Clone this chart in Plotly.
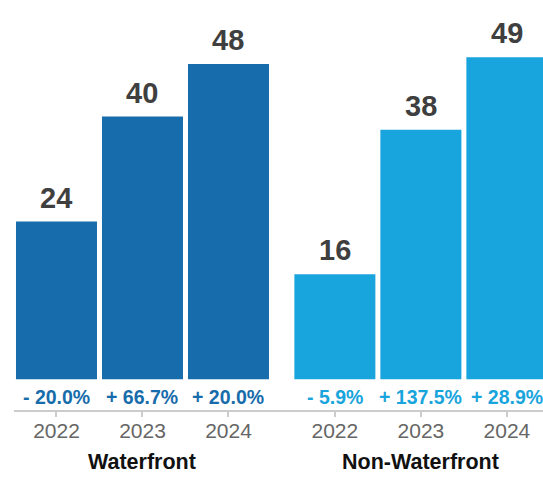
import plotly.graph_objects as go

# Data
years = ["2022", "2023", "2024"]
groups = ["Waterfront", "Non-Waterfront"]
waterfront = [24, 40, 48]
non_waterfront = [16, 38, 49]
waterfront_change = ["- 20.0%", "+ 66.7%", "+ 20.0%"]
non_waterfront_change = ["- 5.9%", "+ 137.5%", "+ 28.9%"]

colors = ["#176cab", "#18a4dc"]
group_offsets = [0.0, 3.237]
bar_width = 0.942

FONT = "Liberation Sans, Arial, Helvetica, sans-serif"

series = [waterfront, non_waterfront]
changes = [waterfront_change, non_waterfront_change]

fig = go.Figure()
annotations = []
tickvals, ticktext = [], []

for g, (name, vals, chg, col, off) in enumerate(
    zip(groups, series, changes, colors, group_offsets)
):
    xs = [off + i for i in range(len(years))]
    fig.add_trace(
        go.Bar(
            x=xs,
            y=vals,
            width=[bar_width] * len(xs),
            marker=dict(color=col, line=dict(width=0)),
            name=name,
            showlegend=False,
            hoverinfo="skip",
        )
    )
    for x, v, c, yr in zip(xs, vals, chg, years):
        tickvals.append(x)
        ticktext.append(yr)
        # value above bar
        annotations.append(dict(
            x=x, y=v, xref="x", yref="y", text=f"<b>{v}</b>",
            showarrow=False, yanchor="middle", yshift=24,
            font=dict(family=FONT, size=29, color="#3f3f3f"),
        ))
        # change label under bar
        annotations.append(dict(
            x=x, y=0, xref="x", yref="y", text=f"<b>{c}</b>",
            showarrow=False, yanchor="middle", yshift=-18,
            font=dict(family=FONT, size=19.5, color=col),
        ))
    # group label
    annotations.append(dict(
        x=off + 1, y=0, xref="x", yref="y", text=f"<b>{name}</b>",
        showarrow=False, yanchor="middle", yshift=-83,
        font=dict(family=FONT, size=21.5, color="#111111"),
    ))

fig.update_layout(
    width=543,
    height=477,
    margin=dict(l=14, r=0, t=0, b=67),
    plot_bgcolor="white",
    paper_bgcolor="white",
    barmode="overlay",
    annotations=annotations,
    xaxis=dict(
        range=[-0.494, 5.657],
        tickvals=tickvals,
        ticktext=ticktext,
        showline=True,
        linecolor="#cccccc",
        linewidth=2,
        ticks="outside",
        ticklen=5,
        tickwidth=2,
        tickcolor="#cccccc",
        ticklabelstandoff=-4,
        showgrid=False,
        zeroline=False,
        tickfont=dict(family=FONT, size=21, color="#666666"),
        fixedrange=True,
    ),
    yaxis=dict(
        range=[-4.67, 57.73],
        visible=False,
        showgrid=False,
        zeroline=False,
        fixedrange=True,
    ),
)

fig.write_html("out.html")
